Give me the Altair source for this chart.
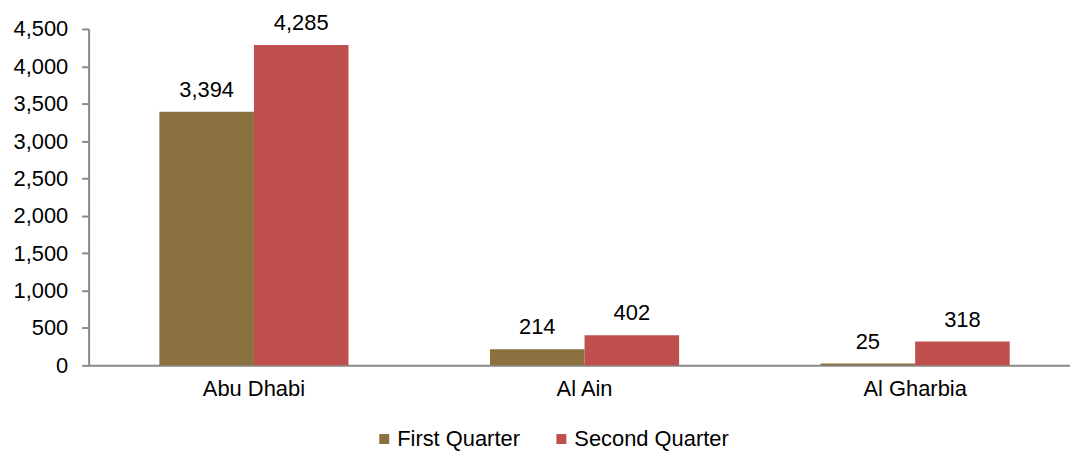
import altair as alt
import pandas as pd

regions = ["Abu Dhabi", "Al Ain", "Al Gharbia"]
quarters = ["First Quarter", "Second Quarter"]
first_quarter = [3394, 214, 25]
second_quarter = [4285, 402, 318]
colors = ["#8B7140", "#C0504D"]

rows = []
for r, a, b in zip(regions, first_quarter, second_quarter):
    rows.append({"region": r, "quarter": quarters[0], "value": a})
    rows.append({"region": r, "quarter": quarters[1], "value": b})
df = pd.DataFrame(rows)

FONT = "Liberation Sans"
FS = 22

x = alt.X("region:N", sort=regions, title=None,
          scale=alt.Scale(range=[0, 996.5], paddingInner=0, paddingOuter=0),
          axis=alt.Axis(labelAngle=0, ticks=False, labelPadding=13,
                        domainColor="#898989", domainWidth=2,
                        labelFont=FONT, labelFontSize=FS, labelColor="#000000"))
xo = alt.XOffset("quarter:N", sort=quarters,
                 scale=alt.Scale(paddingInner=0, paddingOuter=0.748))
y = alt.Y("value:Q", title=None,
          scale=alt.Scale(domain=[0, 4500], nice=False),
          axis=alt.Axis(values=list(range(0, 4501, 500)), format=",.0f",
                        grid=False, tickSize=7, tickColor="#898989", tickWidth=2,
                        domainColor="#898989", domainWidth=2, labelPadding=14,
                        labelFont=FONT, labelFontSize=FS, labelColor="#000000"))

bars = alt.Chart(df).mark_bar().encode(
    x=x, xOffset=xo, y=y,
    color=alt.Color("quarter:N", sort=quarters,
                    scale=alt.Scale(domain=quarters, range=colors),
                    legend=alt.Legend(title=None, orient="none", legendX=286, legendY=401,
                                      direction="horizontal", symbolType="square",
                                      symbolSize=100, symbolStrokeWidth=0,
                                      labelFont=FONT, labelFontSize=FS, labelColor="#000000",
                                      labelOffset=2, columnPadding=30, padding=0,
                                      labelLimit=300)),
)

labels = alt.Chart(df).mark_text(dy=-15, baseline="alphabetic", font=FONT,
                                 fontSize=FS, color="#000000").encode(
    x=x, xOffset=xo, y=y,
    text=alt.Text("value:Q", format=",.0f"),
)

chart = alt.layer(bars, labels).properties(
    width=986, height=338,
    autosize=alt.AutoSizeParams(type="none"),
    padding={"left": 81, "top": 20, "right": 0, "bottom": 88},
).configure_view(stroke=None)

chart.save("out.html", embed_options={"renderer": "svg", "actions": False})
